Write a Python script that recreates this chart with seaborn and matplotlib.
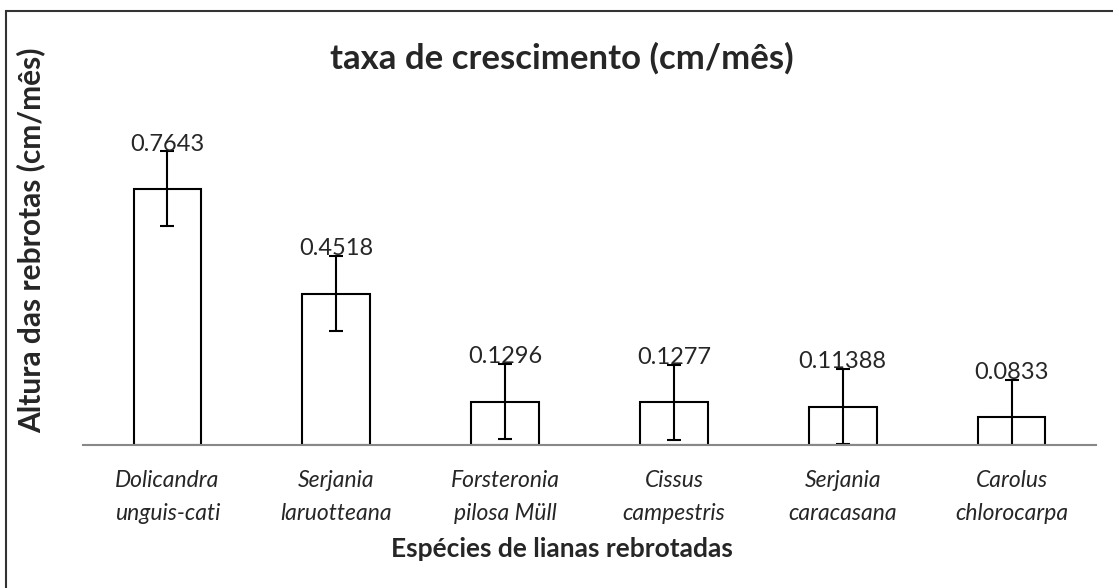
import seaborn as sns
import numpy as np
import pandas as pd
import matplotlib.pyplot as plt
from matplotlib.patches import Rectangle

sns.set_theme(style='white')
plt.rcParams['font.family'] = ['Lato', 'DejaVu Sans']

# dados
especies = ['Dolicandra\nunguis-cati', 'Serjania\nlaruotteana', 'Forsteronia\npilosa Müll',
            'Cissus\ncampestris', 'Serjania\ncaracasana', 'Carolus\nchlorocarpa']
taxa = [0.7643, 0.4518, 0.1296, 0.1277, 0.11388, 0.0833]
erro = [0.112, 0.112, 0.112, 0.112, 0.112, 0.112]
rotulos = ['0.7643', '0.4518', '0.1296', '0.1277', '0.11388', '0.0833']

df = pd.DataFrame({'especie': especies, 'taxa': taxa, 'erro': erro})

fig = plt.figure(figsize=(11.13, 5.88), dpi=100)
ax = fig.add_axes([83/1113, 1 - 445/588, 1013/1113, 301.5/588])

sns.barplot(data=df, x='especie', y='taxa', color='white', edgecolor='black',
            linewidth=1.5, width=0.4, errorbar=None, ax=ax)
ax.errorbar(np.arange(len(taxa)), df['taxa'], yerr=df['erro'], fmt='none',
            ecolor='black', elinewidth=1.5, capsize=5, capthick=1.5)

for i, (v, e, r) in enumerate(zip(taxa, erro, rotulos)):
    ax.text(i, v + e + 0.022, r, ha='center', va='center', fontsize=17)

ax.set_xlim(-0.5, 5.5)
ax.set_ylim(0, 0.9)
ax.set_yticks([])
ax.set_xlabel('')
ax.set_ylabel('')
for s in ['top', 'right', 'left']:
    ax.spines[s].set_visible(False)
ax.spines['bottom'].set_color('#888888')
ax.spines['bottom'].set_linewidth(1.5)
ax.tick_params(axis='x', length=0, pad=18)
for t in ax.get_xticklabels():
    t.set_fontstyle('italic')
    t.set_fontsize(16.5)
    t.set_linespacing(1.7)

fig.text(562/1113, 1 - 58/588, 'taxa de crescimento (cm/mês)', ha='center', va='center',
         fontsize=25, fontweight='bold')
fig.text(562/1113, 1 - 549/588, 'Espécies de lianas rebrotadas', ha='center', va='center',
         fontsize=19, fontweight='bold')
fig.text(31/1113, 1 - 240/588, 'Altura das rebrotas (cm/mês)', ha='center', va='center',
         fontsize=21.5, fontweight='bold', rotation=90)

fig.patches.append(Rectangle((6/1113, -0.1), 1.2, 1 - 11/588 + 0.1, transform=fig.transFigure,
                             fill=False, edgecolor='#333333', linewidth=1.5))

plt.savefig('out.png', dpi=100)
